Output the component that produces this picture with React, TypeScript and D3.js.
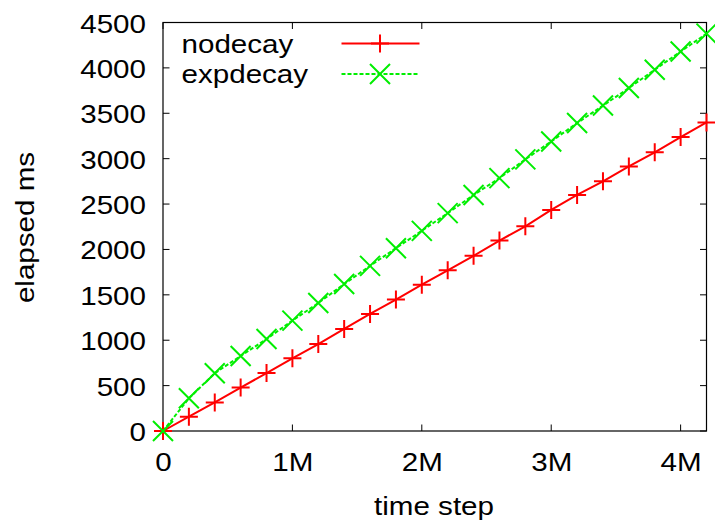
import React from "react";
import * as d3 from "d3";

const timeSteps = [0, 200000, 400000, 600000, 800000, 1000000, 1200000, 1400000, 1600000, 1800000, 2000000, 2200000, 2400000, 2600000, 2800000, 3000000, 3200000, 3400000, 3600000, 3800000, 4000000, 4200000];
const nodecay = [0, 158, 315, 478, 638, 801, 958, 1125, 1290, 1448, 1612, 1770, 1930, 2098, 2255, 2435, 2600, 2750, 2914, 3070, 3238, 3399];
const expdecay = [0, 360, 636, 827, 1013, 1216, 1410, 1619, 1819, 2014, 2205, 2400, 2600, 2786, 2992, 3190, 3392, 3585, 3778, 3980, 4180, 4377];
const seriesNames = ["nodecay", "expdecay"];
const xTickValues = [0, 1000000, 2000000, 3000000, 4000000];
const xTickLabels = ["0", "1M", "2M", "3M", "4M"];
const yTickValues = [0, 500, 1000, 1500, 2000, 2500, 3000, 3500, 4000, 4500];
const xTitle = "time step";
const yTitle = "elapsed ms";

const W = 715, H = 520;
const L = 163, R = 706.5, T = 22.5, B = 431;
const FONT = "'Liberation Sans', Arial, sans-serif";
const FS = 25.5;
const SX = 1.16;
const RED = "#ff0000";
const GREEN = "#00ee00";

function Label({ x, y, text, anchor = "start", rotate = 0 }: any) {
  return (
    <text
      transform={`translate(${x},${y}) rotate(${rotate}) scale(${SX},1)`}
      textAnchor={anchor}
      fontFamily={FONT}
      fontSize={FS}
      fill="#000"
    >
      {text}
    </text>
  );
}

function Plus({ x, y, s = 9 }: any) {
  return (
    <path d={`M${x - s},${y}H${x + s}M${x},${y - s}V${y + s}`} stroke={RED} strokeWidth={2} fill="none" />
  );
}
function Cross({ x, y, s = 10 }: any) {
  return (
    <path d={`M${x - s},${y - s}L${x + s},${y + s}M${x - s},${y + s}L${x + s},${y - s}`} stroke={GREEN} strokeWidth={2} fill="none" />
  );
}

export default function App() {
  const x = d3.scaleLinear().domain([0, 4200000]).range([L, R]);
  const y = d3.scaleLinear().domain([0, 4500]).range([B, T]);
  const line = d3.line<number>().x((_, i) => x(timeSteps[i])).y((d) => y(d));
  const tk = 6.5;

  return (
    <svg width={W} height={H} style={{ position: "absolute", left: 0, top: 0, display: "block", background: "#fff" }}>
      <rect x={0} y={0} width={W} height={H} fill="#fff" />
      {/* ticks */}
      <g stroke="#000" strokeWidth={1}>
        {yTickValues.map((v) => (
          <g key={"y" + v}>
            <line x1={L} x2={L + tk} y1={y(v)} y2={y(v)} />
            <line x1={R} x2={R - tk} y1={y(v)} y2={y(v)} />
          </g>
        ))}
        {xTickValues.map((v) => (
          <g key={"x" + v}>
            <line x1={x(v)} x2={x(v)} y1={B} y2={B - tk} />
            <line x1={x(v)} x2={x(v)} y1={T} y2={T + tk} />
          </g>
        ))}
      </g>
      <rect x={L} y={T} width={R - L} height={B - T} fill="none" stroke="#000" strokeWidth={1.2} />
      {/* tick labels */}
      {yTickValues.map((v) => (
        <Label key={"yl" + v} x={146} y={y(v) + 10} text={String(v)} anchor="end" />
      ))}
      {xTickValues.map((v, i) => (
        <Label key={"xl" + v} x={x(v) + 0.5} y={470.5} text={xTickLabels[i]} anchor="middle" />
      ))}
      <Label x={434} y={515} text={xTitle} anchor="middle" />
      <Label x={34} y={227.5} text={yTitle} anchor="middle" rotate={-90} />
      {/* series */}
      <path d={line(nodecay) || ""} stroke={RED} strokeWidth={2} fill="none" />
      <path d={line(expdecay) || ""} stroke={GREEN} strokeWidth={2} strokeDasharray="4,2" fill="none" />
      {nodecay.map((v, i) => (
        <Plus key={"p" + i} x={x(timeSteps[i])} y={y(v)} />
      ))}
      {expdecay.map((v, i) => (
        <Cross key={"c" + i} x={x(timeSteps[i])} y={y(v)} />
      ))}
      {/* legend */}
      <Label x={181.5} y={53.3} text={seriesNames[0]} />
      <Label x={181.5} y={82.5} text={seriesNames[1]} />
      <line x1={341.5} x2={419.5} y1={43.5} y2={43.5} stroke={RED} strokeWidth={2} />
      <Plus x={380} y={43.5} />
      <line x1={341.5} x2={419.5} y1={74} y2={74} stroke={GREEN} strokeWidth={2} strokeDasharray="4,2" />
      <Cross x={380} y={74} />
    </svg>
  );
}
